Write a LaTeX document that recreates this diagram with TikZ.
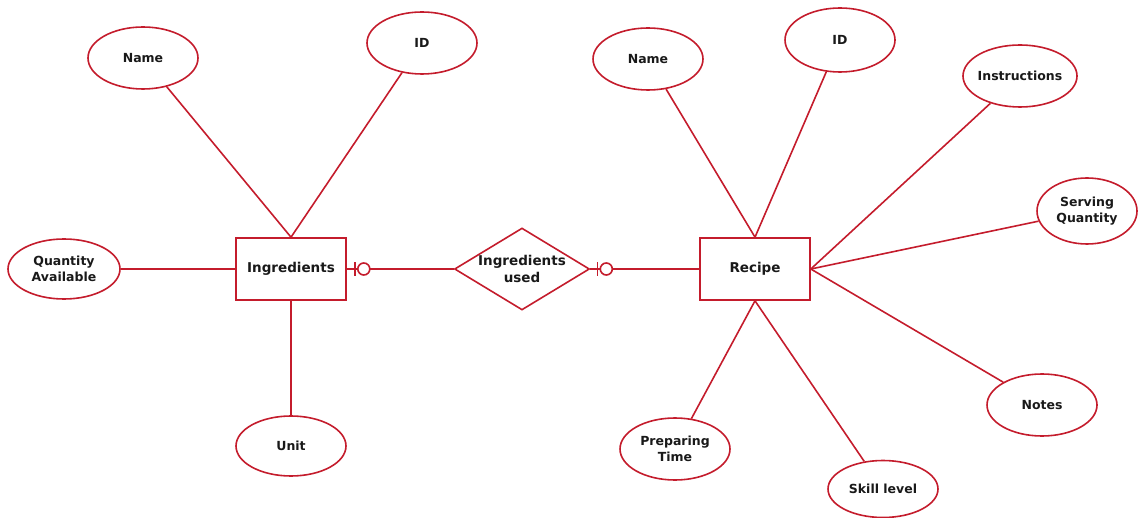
\documentclass[tikz,border=0pt]{standalone}
\usepackage{fontspec}
\setmainfont{DejaVu Sans}
\usetikzlibrary{shapes.geometric}
\definecolor{erred}{RGB}{196,28,44}
\definecolor{ertext}{RGB}{25,25,25}
\tikzset{
  attr/.style={ellipse, draw=erred, line width=1.6pt, fill=white, inner sep=-2pt,
    minimum width=110pt, minimum height=62pt, align=center, text=ertext,
    font=\bfseries\fontsize{12.5}{16}\selectfont},
  entity/.style={rectangle, draw=erred, line width=1.6pt, fill=white,
    minimum width=110pt, minimum height=62pt, align=center, text=ertext,
    font=\bfseries\fontsize{13.5}{16}\selectfont},
  rel/.style={diamond, draw=erred, line width=1.6pt, fill=white, inner sep=0pt,
    minimum width=135pt, minimum height=82pt, align=center, text=ertext,
    font=\bfseries\fontsize{13.5}{17}\selectfont, aspect=1.65},
  link/.style={draw=erred, line width=1.6pt},
}
\begin{document}
\begin{tikzpicture}[x=1pt,y=-1pt]
\useasboundingbox (0,0) rectangle (1142,518);
\node[entity] (ingr) at (291,269) {Ingredients};
\node[entity] (recipe) at (755,269) {Recipe};
\node[rel] (used) at (522,269) {Ingredients\\used};
\node[attr] (iname) at (143,58) {Name};
\node[attr] (iid) at (422,43) {ID};
\node[attr, minimum width=112pt, minimum height=60pt] (qty) at (64,269) {Quantity\\Available};
\node[attr, minimum height=60pt] (unit) at (291,446) {Unit};
\node[attr] (rname) at (648,59) {Name};
\node[attr, minimum height=64pt] (rid) at (840,40) {ID};
\node[attr] (instr) at (1020,76) {Instructions};
\node[attr, minimum width=100pt, minimum height=66pt] (serv) at (1087,211) {Serving\\Quantity};
\node[attr] (notes) at (1042,405) {Notes};
\node[attr] (prep) at (675,449) {Preparing\\Time};
\node[attr, minimum height=57pt] (skill) at (883,489) {Skill level};
% connectors
\draw[link] (iname) -- (ingr.north);
\draw[link] (iid) -- (ingr.north);
\draw[link] (qty) -- (ingr.west);
\draw[link] (unit) -- (ingr.south);
\draw[link] (ingr.east) -- (used.west);
\draw[link] (used.east) -- (recipe.west);
\draw[link] (rname) -- (recipe.north);
\draw[link] (rid) -- (recipe.north);
\draw[link] (instr) -- (recipe.east);
\draw[link] (serv) -- (recipe.east);
\draw[link] (notes) -- (recipe.east);
\draw[link] (prep) -- (recipe.south);
\draw[link] (skill) -- (recipe.south);
% zero-or-one markers
\coordinate (m1) at ([xshift=8pt]ingr.east);
\draw[link] ([yshift=-7pt]m1) -- ([yshift=7pt]m1);
\draw[link, fill=white] ([xshift=9pt]m1) circle (6pt);
\coordinate (m2) at ([xshift=7pt]used.east);
\draw[link] ([yshift=-7pt]m2) -- ([yshift=7pt]m2);
\draw[link, fill=white] ([xshift=9pt]m2) circle (6pt);
\end{tikzpicture}
\end{document}
